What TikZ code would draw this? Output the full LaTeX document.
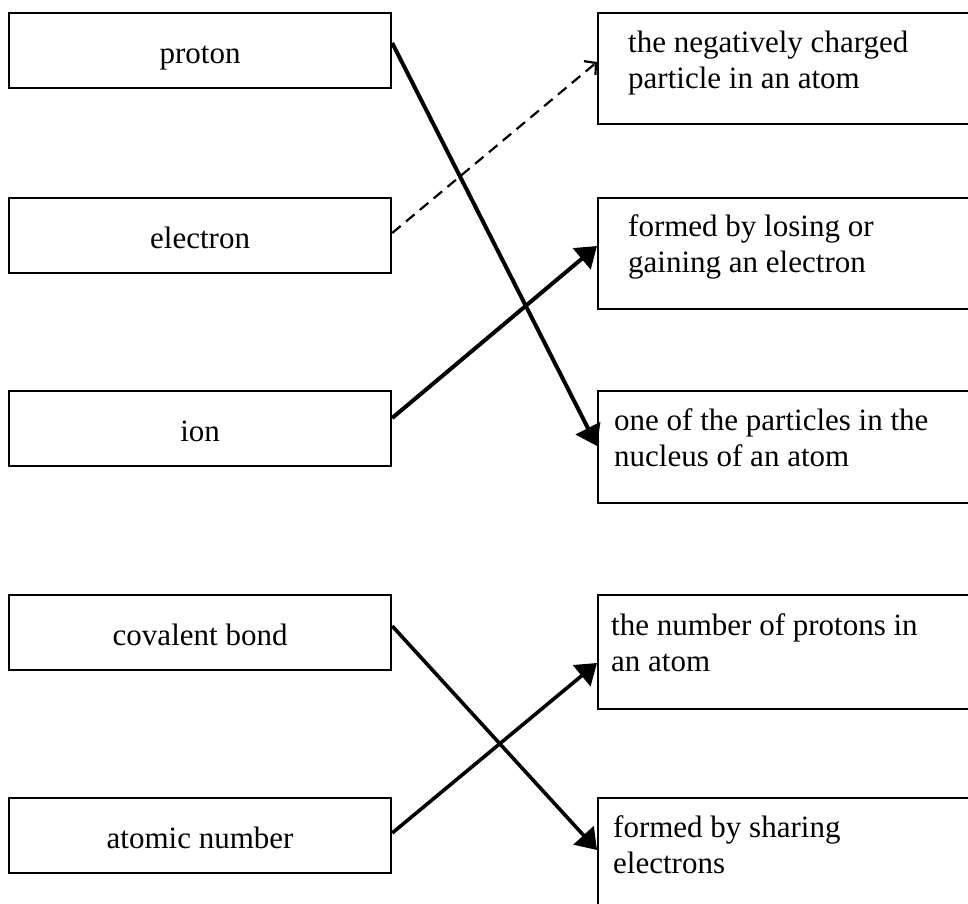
\documentclass[tikz,border=0pt]{standalone}
\usepackage{fontspec}
\setmainfont{Liberation Serif}
\usetikzlibrary{arrows.meta}

% two left-aligned lines whose baseline is the first line's
\newcommand{\twoline}[2]{\begin{tabular}[t]{@{}l@{}}#1\\#2\end{tabular}}

\tikzset{
  lbox/.style={draw, line width=2.2pt, anchor=north west, minimum width=382pt,
    minimum height=75pt, inner sep=0pt, text height=30pt, text depth=5pt,
    font=\fontsize{31}{36}\selectfont},
  rbox/.style={draw, line width=2.2pt, anchor=north west, minimum width=390pt, inner sep=0pt},
  rtext/.style={anchor=base west, inner sep=0pt, font=\fontsize{31}{36}\selectfont},
  link/.style={line width=4pt, -{Triangle[length=20pt,width=27pt]}},
  thinlink/.style={link, line width=3.6pt},
  hint/.style={line width=2.2pt, dash pattern=on 11pt off 7pt,
    -{Straight Barb[length=8pt,width=18pt]}},
}

\begin{document}
\begin{tikzpicture}[x=1pt, y=-1pt]
\useasboundingbox (0,0) rectangle (968,903);

% terms
\node[lbox] (p1) at (8,12)  {proton};
\node[lbox] (p2) at (8,197) {electron};
\node[lbox] (p3) at (8,390) {ion};
\node[lbox] (p4) at (8,594) {covalent bond};
\node[lbox] (p5) at (8,797) {atomic number};

% definitions (open to the right edge)
\node[rbox, minimum height=111pt] (r1) at (597,12)  {};
\node[rbox, minimum height=111pt] (r2) at (597,197) {};
\node[rbox, minimum height=112pt] (r3) at (597,390) {};
\node[rbox, minimum height=114pt] (r4) at (597,594) {};
\node[rbox, minimum height=130pt] (r5) at (597,797) {};

\node[rtext] (t1) at ([xshift=31pt,yshift=-40pt]r1.north west)
  {\twoline{the negatively charged}{particle in an atom}};
\node[rtext] (t2) at ([xshift=31pt,yshift=-39pt]r2.north west)
  {\twoline{formed by losing or}{gaining an electron}};
\node[rtext] (t3) at ([xshift=17pt,yshift=-40pt]r3.north west)
  {\twoline{one of the particles in the}{nucleus of an atom}};
\node[rtext] (t4) at ([xshift=14pt,yshift=-41pt]r4.north west)
  {\twoline{the number of protons in}{an atom}};
\node[rtext] (t5) at ([xshift=16pt,yshift=-40pt]r5.north west)
  {\twoline{formed by sharing}{electrons}};

% matching lines
\draw[hint] (p2.east |- 0,233) -- (r1.west |- 0,62);
\draw[link] (p1.east |- 0,43)  -- (r3.west |- 0,446);
\draw[link] (p3.east |- 0,418) -- (r2.west |- 0,246);
\draw[thinlink] (p4.east |- 0,626) -- (r5.west |- 0,850);
\draw[thinlink] (p5.east |- 0,833) -- (r4.west |- 0,663);
\end{tikzpicture}
\end{document}
